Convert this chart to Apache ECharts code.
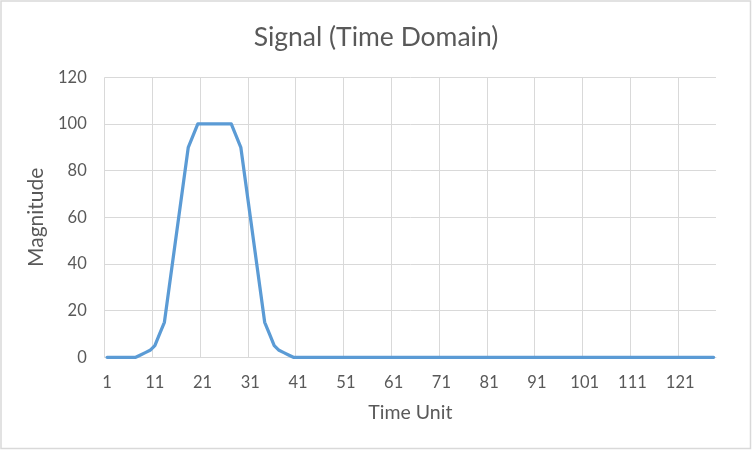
<!DOCTYPE html>
<html>
<head>
<meta charset="utf-8">
<script src="https://cdn.jsdelivr.net/npm/echarts@6/dist/echarts.min.js"></script>
<style>
html,body{margin:0;padding:0;background:#fff;}
#chart{width:752px;height:451px;}
</style>
</head>
<body>
<div id="chart"></div>
<script>
var categories = [
  1,2,3,4,5,6,7,8,9,10,11,12,13,14,15,16,17,18,19,20,
  21,22,23,24,25,26,27,28,29,30,31,32,33,34,35,36,37,38,39,40,
  41,42,43,44,45,46,47,48,49,50,51,52,53,54,55,56,57,58,59,60,
  61,62,63,64,65,66,67,68,69,70,71,72,73,74,75,76,77,78,79,80,
  81,82,83,84,85,86,87,88,89,90,91,92,93,94,95,96,97,98,99,100,
  101,102,103,104,105,106,107,108,109,110,111,112,113,114,115,116,117,118,119,120,
  121,122,123,124,125,126,127,128
];
var magnitude = [
  0,0,0,0,0,0,0,1,2,3,5,10,15,30,45,60,75,90,95,100,
  100,100,100,100,100,100,100,95,90,75,60,45,30,15,10,5,3,2,1,0,
  0,0,0,0,0,0,0,0,0,0,0,0,0,0,0,0,0,0,0,0,
  0,0,0,0,0,0,0,0,0,0,0,0,0,0,0,0,0,0,0,0,
  0,0,0,0,0,0,0,0,0,0,0,0,0,0,0,0,0,0,0,0,
  0,0,0,0,0,0,0,0,0,0,0,0,0,0,0,0,0,0,0,0,
  0,0,0,0,0,0,0,0
];
var yTicks = { min: 0, max: 120, interval: 20 };
var titleText = 'Signal (Time Domain)';
var xName = 'Time Unit';
var yName = 'Magnitude';

var FONT = 'Lato, "Liberation Sans", sans-serif';
var TXT = '#595959';
var GRID = '#d9d9d9';

var splitColors = [];
for (var i = 0; i < 13; i++) splitColors.push(GRID);
splitColors.push('rgba(0,0,0,0)');

var chart = echarts.init(document.getElementById('chart'), null, {renderer: 'canvas'});
chart.setOption({
  animation: false,
  backgroundColor: '#ffffff',
  title: {
    text: titleText,
    left: 'center',
    top: 19,
    textStyle: { fontFamily: FONT, fontSize: 26.5, fontWeight: 'normal', color: TXT }
  },
  graphic: [{
    type: 'rect',
    shape: { x: 1, y: 1, width: 749.5, height: 447.5 },
    style: { fill: 'none', stroke: GRID, lineWidth: 1.5 },
    silent: true,
    z: 100
  }],
  grid: { left: 104.7, right: 36, top: 77.3, bottom: 93.7, containLabel: false },
  xAxis: {
    type: 'category',
    data: categories,
    boundaryGap: true,
    name: xName,
    nameLocation: 'middle',
    nameGap: 45,
    nameTextStyle: { fontFamily: FONT, fontSize: 19.5, color: TXT },
    axisLine: { show: true, lineStyle: { color: GRID, width: 1 } },
    axisTick: { show: false, interval: 9 },
    axisLabel: { interval: 9, margin: 17, fontFamily: FONT, fontSize: 16.5, color: TXT },
    splitLine: { show: true, interval: 9, showMaxLine: false, lineStyle: { color: splitColors, width: 1 } }
  },
  yAxis: {
    type: 'value',
    min: yTicks.min,
    max: yTicks.max,
    interval: yTicks.interval,
    name: yName,
    nameLocation: 'middle',
    nameGap: 47,
    nameTextStyle: { fontFamily: FONT, fontSize: 21, color: TXT },
    axisLine: { show: false },
    axisTick: { show: false },
    axisLabel: { margin: 18, fontFamily: FONT, fontSize: 16.5, color: TXT },
    splitLine: { show: true, lineStyle: { color: GRID, width: 1 } }
  },
  series: [{
    type: 'line',
    data: magnitude,
    showSymbol: false,
    symbol: 'none',
    smooth: false,
    lineStyle: { color: '#5b9bd5', width: 3.25, join: 'round', cap: 'round' },
    z: 3
  }]
});
</script>
</body>
</html>
